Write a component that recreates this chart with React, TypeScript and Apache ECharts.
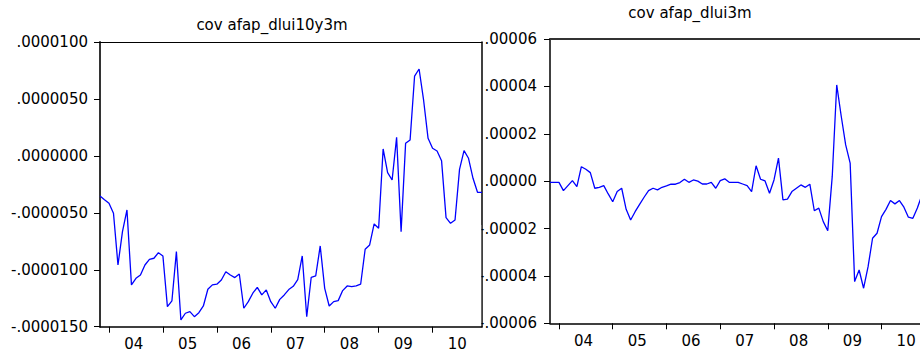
import React, { useEffect, useRef } from "react";
import * as echarts from "echarts";

// Monthly observations, 2003M11 .. 2010M12
const START_YEAR = 2003;
const START_MONTH = 11;
const N_OBS = 86;

const MONTHS: string[] = [];
for (let k = 0; k < N_OBS; k++) {
  const m0 = START_MONTH - 1 + k;
  const y = START_YEAR + Math.floor(m0 / 12);
  const m = (m0 % 12) + 1;
  MONTHS.push(`${y}M${m}`);
}

// cov afap_dlui10y3m, in units of 1e-6
const COV_10Y3M: number[] = [
  -3.52, -3.85, -4.16, -5.04, -9.58, -6.65, -4.75, -11.33, -10.75, -10.46,
  -9.58, -9.08, -8.99, -8.5, -8.79, -13.24, -12.74, -8.41, -14.41, -13.82,
  -13.68, -14.12, -13.77, -13.18, -11.71, -11.33, -11.27, -10.9, -10.17, -10.46,
  -10.69, -10.37, -13.38, -12.8, -12.06, -11.54, -12.21, -11.77, -12.8, -13.38,
  -12.6, -12.21, -11.74, -11.45, -10.87, -8.79, -14.12, -10.66, -10.54, -7.91,
  -11.63, -13.18, -12.8, -12.71, -11.83, -11.42, -11.48, -11.42, -11.27, -8.2,
  -7.82, -5.98, -6.36, 0.61, -1.47, -2.12, 1.63, -6.65, 1.1, 1.4,
  7.01, 7.63, 4.91, 1.54, 0.67, 0.43, -0.42, -5.42, -5.92, -5.63,
  -1.18, 0.46, -0.21, -1.97, -3.2, -3.2,
];

// cov afap_dlui3m, in units of 1e-5
const COV_3M: (number | null)[] = [
  -0.05, -0.05, -0.05, -0.4, -0.19, 0.02, -0.23, 0.61, 0.5, 0.36,
  -0.3, -0.26, -0.19, -0.54, -0.87, -0.44, -0.3, -1.19, -1.64, -1.29,
  -0.98, -0.68, -0.4, -0.3, -0.37, -0.26, -0.2, -0.13, -0.13, -0.06,
  0.08, -0.05, 0.05, 0.0, -0.12, -0.12, -0.05, -0.3, 0.02, 0.1,
  -0.05, -0.05, -0.05, -0.12, -0.19, -0.44, 0.65, 0.08, 0.01, -0.51,
  0.05, 0.97, -0.79, -0.76, -0.44, -0.3, -0.16, -0.26, -0.13, -1.25,
  -1.14, -1.71, -2.09, 0.2, 4.06, 2.75, 1.53, 0.76, -4.24, -3.75,
  -4.52, -3.61, -2.41, -2.2, -1.5, -1.19, -0.82, -0.96, -0.82, -1.1,
  -1.52, -1.57, -1.13, -0.6, null, null,
];

const TITLE_LEFT = "cov afap_dlui10y3m";
const TITLE_RIGHT = "cov afap_dlui3m";

const FONT = '"DejaVu Sans", sans-serif';

const monthOf = (cat: string) => Number(cat.split("M")[1]);
const yearLabel = (cat: string) => cat.slice(2, 4);

// EViews-style number: leading zero dropped, fixed decimals
const fmt = (v: number, scale: number, decimals: number) => {
  const s = (v * scale).toFixed(decimals);
  const neg = s.startsWith("-");
  const body = s.replace("-", "").replace(/^0\./, ".");
  return Number(body) === 0 ? body : (neg ? "-" : "") + body;
};

function bottomAxis(gridIndex: number) {
  return {
    gridIndex,
    type: "category",
    data: MONTHS,
    boundaryGap: false,
    position: "bottom",
    axisLine: { show: true, onZero: false, lineStyle: { color: "#000", width: 1.5 } },
    axisTick: {
      show: true,
      inside: false,
      length: 6,
      interval: (_i: number, v: string) => monthOf(v) === 1,
      lineStyle: { color: "#000", width: 1 },
    },
    axisLabel: {
      show: true,
      interval: (_i: number, v: string) => monthOf(v) === 7,
      formatter: (v: string) => `{a|${yearLabel(v)}}`,
      margin: 10,
      color: "#000",
      fontFamily: FONT,
      fontSize: 15,
      rich: { a: { fontFamily: FONT, fontSize: 15, color: "#000", padding: [0, 4.5, 0, 0] } },
    },
    splitLine: { show: false },
  };
}

function topAxis(gridIndex: number, width: number, color: string) {
  return {
    gridIndex,
    type: "category",
    data: MONTHS,
    boundaryGap: false,
    position: "top",
    axisLine: { show: true, onZero: false, lineStyle: { color, width } },
    axisTick: { show: false },
    axisLabel: { show: false },
    splitLine: { show: false },
  };
}

export default function App() {
  const ref = useRef<HTMLDivElement>(null);

  useEffect(() => {
    document.body.style.margin = "0";
    if (!ref.current) return;
    const chart = echarts.init(ref.current, undefined, { renderer: "svg" });

    const option: any = {
      animation: false,
      backgroundColor: "#fff",
      grid: [
        { left: 100, top: 42, width: 382, height: 284.7 },
        { left: 550, top: 39, width: 380.8, height: 284.3 },
      ],
      xAxis: [
        bottomAxis(0),
        topAxis(0, 1, "#000"),
        bottomAxis(1),
        topAxis(1, 2, "#333"),
      ],
      yAxis: [
        {
          gridIndex: 0,
          type: "value",
          min: -15,
          max: 10,
          interval: 5,
          position: "left",
          axisLine: { show: true, lineStyle: { color: "#333", width: 2 } },
          axisTick: { show: true, inside: false, length: 6, lineStyle: { color: "#000", width: 1 } },
          axisLabel: {
            margin: 12,
            color: "#000",
            fontFamily: FONT,
            fontSize: 15,
            formatter: (v: number) => fmt(v, 1e-6, 7),
          },
          splitLine: { show: false },
        },
        {
          gridIndex: 0,
          type: "value",
          min: -15,
          max: 10,
          interval: 5,
          position: "right",
          axisLine: { show: true, lineStyle: { color: "#000", width: 1.5 } },
          axisTick: { show: false },
          axisLabel: { show: false },
          splitLine: { show: false },
        },
        {
          gridIndex: 1,
          type: "value",
          min: -6,
          max: 6,
          interval: 2,
          position: "left",
          axisLine: { show: true, lineStyle: { color: "#000", width: 1.5 } },
          axisTick: { show: true, inside: false, length: 6, lineStyle: { color: "#000", width: 1 } },
          axisLabel: {
            margin: 13,
            color: "#000",
            fontFamily: FONT,
            fontSize: 15,
            formatter: (v: number) => fmt(v, 1e-5, 5),
          },
          splitLine: { show: false },
        },
        {
          gridIndex: 1,
          type: "value",
          min: -6,
          max: 6,
          interval: 2,
          position: "right",
          axisLine: { show: true, lineStyle: { color: "#000", width: 1 } },
          axisTick: { show: false },
          axisLabel: { show: false },
          splitLine: { show: false },
        },
      ],
      series: [
        {
          name: TITLE_LEFT,
          type: "line",
          xAxisIndex: 0,
          yAxisIndex: 0,
          data: COV_10Y3M,
          showSymbol: false,
          symbol: "none",
          lineStyle: { color: "#0000ff", width: 1.3 },
          z: 3,
        },
        {
          name: TITLE_RIGHT,
          type: "line",
          xAxisIndex: 2,
          yAxisIndex: 2,
          data: COV_3M,
          showSymbol: false,
          symbol: "none",
          connectNulls: false,
          lineStyle: { color: "#0000ff", width: 1.3 },
          z: 3,
        },
      ],
      graphic: [
        // left frame hides the minus signs of the neighbouring axis labels
        {
          type: "rect",
          z: 100,
          shape: { x: 470, y: 225, width: 11.2, height: 100.8 },
          style: { fill: "#fff" },
        },
        {
          type: "text",
          z: 100,
          x: 272,
          y: 24.5,
          style: {
            text: TITLE_LEFT,
            font: `15px ${FONT}`,
            fill: "#000",
            align: "center",
            verticalAlign: "middle",
            textAlign: "center",
            textVerticalAlign: "middle",
          },
        },
        {
          type: "text",
          z: 100,
          x: 690,
          y: 13,
          style: {
            text: TITLE_RIGHT,
            font: `15px ${FONT}`,
            fill: "#000",
            align: "center",
            verticalAlign: "middle",
            textAlign: "center",
            textVerticalAlign: "middle",
          },
        },
      ],
    };

    chart.setOption(option);
    return () => chart.dispose();
  }, []);

  // The right panel runs past the page edge, so the chart is wider than its frame.
  return (
    <div style={{ width: 920, height: 353, overflow: "hidden", position: "relative" }}>
      <div ref={ref} style={{ width: 945, height: 353 }} />
    </div>
  );
}
